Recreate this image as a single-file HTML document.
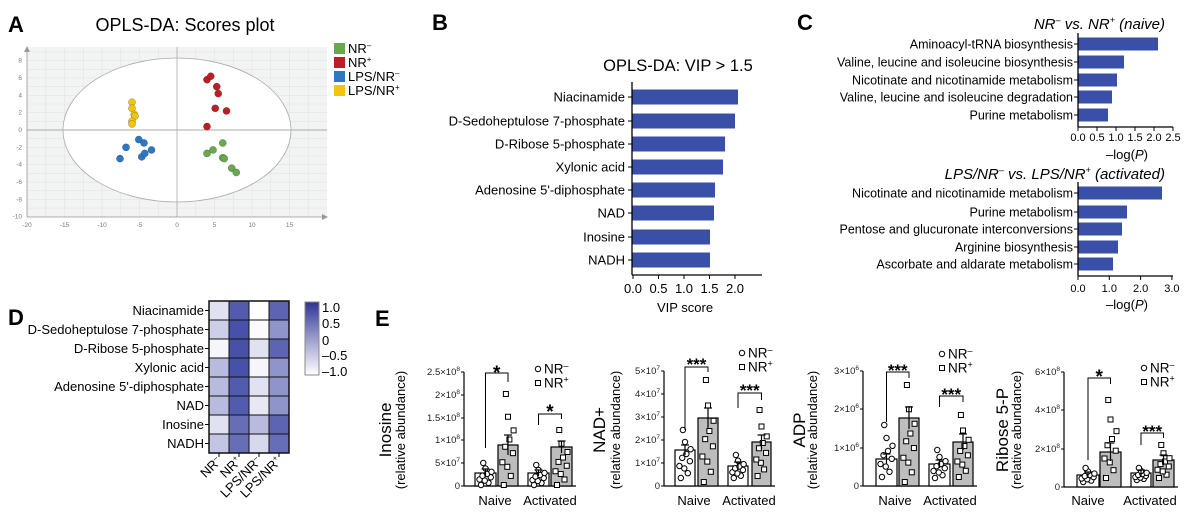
<!DOCTYPE html>
<html><head><meta charset="utf-8"><style>
html,body{margin:0;padding:0;background:#fff;}
svg{display:block;font-family:"Liberation Sans",sans-serif;}
</style></head><body>
<svg id="s" width="1200" height="524" viewBox="0 0 1200 524" xmlns="http://www.w3.org/2000/svg">
<rect width="1200" height="524" fill="#fff"/>
<!-- Panel A -->
<text x="8" y="32" font-size="22" font-weight="bold">A</text>
<text x="185" y="31" font-size="18" text-anchor="middle">OPLS-DA: Scores plot</text>
<rect x="27" y="47" width="300" height="170" fill="#f2f3f3"/>
<g id="agrid" stroke="#e2e4e4" stroke-width="0.6"></g>
<ellipse cx="177" cy="130" rx="114" ry="72" fill="#fff" stroke="#aaa" stroke-width="0.8"/>
<line x1="177" y1="47" x2="177" y2="217" stroke="#aaa" stroke-width="0.8"/>
<line x1="27" y1="130" x2="327" y2="130" stroke="#aaa" stroke-width="1"/>
<line x1="27" y1="217" x2="322" y2="217" stroke="#999" stroke-width="0.8"/>
<line x1="27" y1="48" x2="27" y2="217" stroke="#999" stroke-width="0.8"/>
<polygon points="322,214 328,217 322,220" fill="#999"/>
<polygon points="24,52 27,46 30,52" fill="#999"/>
<g id="alabels" font-size="6.5" fill="#777"></g>
<g id="apts"></g>
<g font-size="13">
<rect x="334" y="43" width="11" height="11" fill="#6aa84f"/><text x="348" y="53">NR<tspan font-size="8" dy="-5">–</tspan></text>
<rect x="334" y="57" width="11" height="11" fill="#b72025"/><text x="348" y="67">NR<tspan font-size="8" dy="-5">+</tspan></text>
<rect x="334" y="71" width="11" height="11" fill="#2f77c0"/><text x="348" y="81">LPS/NR<tspan font-size="8" dy="-5">–</tspan></text>
<rect x="334" y="85" width="11" height="11" fill="#f1c40f"/><text x="348" y="95">LPS/NR<tspan font-size="8" dy="-5">+</tspan></text>
</g>
<!-- Panel B -->
<text x="432" y="30" font-size="22" font-weight="bold">B</text>
<text x="678" y="71" font-size="16.5" text-anchor="middle">OPLS-DA: VIP &gt; 1.5</text>
<g id="pb"></g>
<!-- Panel C -->
<text x="797" y="30" font-size="22" font-weight="bold">C</text>
<g id="pc"></g>
<!-- Panel D -->
<text x="8" y="325" font-size="22" font-weight="bold">D</text>
<g id="pd"></g>
<!-- Panel E -->
<text x="375" y="326" font-size="22" font-weight="bold">E</text>
<g id="pe"></g>
</svg>
<script>
const NS="http://www.w3.org/2000/svg";
function el(p,t,a,txt){const e=document.createElementNS(NS,t);for(const k in a)e.setAttribute(k,a[k]);if(txt!==undefined)e.textContent=txt;p.appendChild(e);return e;}
// Panel A
const ag=document.getElementById('agrid'),al=document.getElementById('alabels'),ap=document.getElementById('apts');
const X=v=>177+7.5*v,Y=v=>130-8.67*v;
for(let v=-20;v<=19;v+=2.5)el(ag,'line',{x1:X(v),y1:47,x2:X(v),y2:217});
for(let v=-10;v<=9;v+=1)el(ag,'line',{x1:27,y1:Y(v),x2:327,y2:Y(v)});
for(let v=-20;v<=15;v+=5)el(al,'text',{x:X(v),y:227,'text-anchor':'middle'},v);
for(let v=-10;v<=8;v+=2)el(al,'text',{x:22,y:Y(v)+2,'text-anchor':'end'},v);
const pts={"#b72025":[[4,5.8],[4.5,6.2],[5.3,5],[5.5,4.2],[5.1,2.5],[6.6,2.2],[4,0.4]],
"#6aa84f":[[4,-2.7],[4.8,-2.3],[6.1,-1.5],[6.1,-3.2],[6.3,-3.3],[7.3,-4.4],[7.9,-4.9]],
"#2f77c0":[[-5.1,-1.1],[-4.4,-1.5],[-6.8,-2],[-7.6,-3.3],[-4.7,-3.1],[-4.3,-2.7],[-3.4,-2.3]],
"#f1c40f":[[-6,3.2],[-6,2.5],[-5.7,1.8],[-5.6,1.6],[-6,1],[-6,0.7]]};
for(const c in pts)pts[c].forEach(p=>el(ap,'circle',{cx:X(p[0]),cy:Y(p[1]),r:3.6,fill:c,stroke:'rgba(0,0,0,0.35)','stroke-width':0.5}));
const BLUE="#3a4fa8";
// Panel B
const pb=document.getElementById('pb');
const bl=["Niacinamide","D-Sedoheptulose 7-phosphate","D-Ribose 5-phosphate","Xylonic acid","Adenosine 5'-diphosphate","NAD","Inosine","NADH"];
const be=[738,735,725,723,715,714,710,710],bc=[97,121,144,167,190,213,237,260];
bl.forEach((l,i)=>{el(pb,'rect',{x:632,y:bc[i]-7.5,width:be[i]-632,height:15,fill:BLUE});
el(pb,'line',{x1:628,y1:bc[i],x2:632,y2:bc[i],stroke:'#000'});
el(pb,'text',{x:625,y:bc[i]+4.5,'font-size':13,'text-anchor':'end'},l);});
el(pb,'line',{x1:632,y1:82,x2:632,y2:275,stroke:'#000','stroke-width':1.3});
el(pb,'line',{x1:632,y1:275,x2:762,y2:275,stroke:'#000','stroke-width':1.3});
["0.0","0.5","1.0","1.5","2.0"].forEach((t,i)=>{const x=633+25.5*i;el(pb,'line',{x1:x,y1:275,x2:x,y2:279,stroke:'#000'});el(pb,'text',{x:x,y:293,'font-size':13,'text-anchor':'middle'},t);});
el(pb,'text',{x:685,y:312,'font-size':13,'text-anchor':'middle'},"VIP score");
// Panel C
const pc=document.getElementById('pc');
function cpanel(title,labels,ends,cents,axY,ticks,tickStep,tlY,lgY,tY){
 const t=el(pc,'text',{x:1165,y:tY,'font-size':15,'font-style':'italic','text-anchor':'end'});t.innerHTML=title;
 labels.forEach((l,i)=>{el(pc,'rect',{x:1078,y:cents[i]-6.5,width:ends[i]-1078,height:13,fill:BLUE});
 el(pc,'line',{x1:1074,y1:cents[i],x2:1078,y2:cents[i],stroke:'#000'});
 el(pc,'text',{x:1073,y:cents[i]+4.5,'font-size':12.5,'text-anchor':'end'},l);});
 el(pc,'line',{x1:1078,y1:cents[0]-11,x2:1078,y2:axY,stroke:'#000','stroke-width':1.3});
 el(pc,'line',{x1:1078,y1:axY,x2:1173,y2:axY,stroke:'#000','stroke-width':1.3});
 ticks.forEach((tk,i)=>{const x=1078+tickStep*i;el(pc,'line',{x1:x,y1:axY,x2:x,y2:axY+4,stroke:'#000'});el(pc,'text',{x:x,y:tlY,'font-size':11,'text-anchor':'middle'},tk);});
 const g=el(pc,'text',{x:1127,y:lgY,'font-size':13,'text-anchor':'middle'});g.innerHTML='–log(<tspan font-style="italic">P</tspan>)';
}
cpanel('NR<tspan font-size="9" dy="-6">–</tspan><tspan dy="6"> vs. NR</tspan><tspan font-size="9" dy="-6">+</tspan><tspan dy="6"> (naive)</tspan>',
["Aminoacyl-tRNA biosynthesis","Valine, leucine and isoleucine biosynthesis","Nicotinate and nicotinamide metabolism","Valine, leucine and isoleucine degradation","Purine metabolism"],
[1158,1124,1117,1112,1108],[44,62,80,97,115],127,["0.0","0.5","1.0","1.5","2.0","2.5"],19,141,159,29);
cpanel('LPS/NR<tspan font-size="9" dy="-6">–</tspan><tspan dy="6"> vs. LPS/NR</tspan><tspan font-size="9" dy="-6">+</tspan><tspan dy="6"> (activated)</tspan>',
["Nicotinate and nicotinamide metabolism","Purine metabolism","Pentose and glucuronate interconversions","Arginine biosynthesis","Ascorbate and aldarate metabolism"],
[1162,1127,1122,1118,1113],[193,212,229,247,264],276,["0.0","1.0","2.0","3.0"],31.3,292,309,179);
// Panel D
const pd=document.getElementById('pd');
const hv=[[.15,.85,0,.8],[.25,.9,.02,.55],[.05,.9,.15,.8],[.35,.9,.05,.55],[.35,.85,.15,.55],[.35,.85,.12,.55],[.15,.75,.35,.8],[.3,.75,.2,.75]];
const col=v=>{const r=Math.round(255+(52-255)*v),g=Math.round(255+(62-255)*v),b=Math.round(255+(160-255)*v);return `rgb(${r},${g},${b})`;};
hv.forEach((row,i)=>{row.forEach((v,j)=>el(pd,'rect',{x:209+20*j,y:301+19*i,width:20,height:19,fill:col(v),stroke:'#111','stroke-width':1}));
 el(pd,'line',{x1:205,y1:310.5+19*i,x2:209,y2:310.5+19*i,stroke:'#000'});
 el(pd,'text',{x:204,y:315+19*i,'font-size':13,'text-anchor':'end'},bl[i]);});
el(pd,'rect',{x:209,y:301,width:80,height:152,fill:'none',stroke:'#111','stroke-width':1.5});
const cl=['NR<tspan font-size="8" dy="-5">–</tspan>','NR<tspan font-size="8" dy="-5">+</tspan>','LPS/NR<tspan font-size="8" dy="-5">–</tspan>','LPS/NR<tspan font-size="8" dy="-5">+</tspan>'];
cl.forEach((c,j)=>{const x=219+20*j;el(pd,'line',{x1:x,y1:453,x2:x,y2:457,stroke:'#000'});const t=el(pd,'text',{x:x+3,y:462,'font-size':13,'text-anchor':'end',transform:`rotate(-45 ${x+3} 462)`});t.innerHTML=c;});
const defs=el(document.getElementById('s'),'defs',{});const lg=el(defs,'linearGradient',{id:'cb',x1:0,y1:0,x2:0,y2:1});
el(lg,'stop',{offset:0,'stop-color':'#2e3592'});el(lg,'stop',{offset:.5,'stop-color':'#9b9ccd'});el(lg,'stop',{offset:1,'stop-color':'#fff'});
el(pd,'rect',{x:305,y:302,width:14,height:73,fill:'url(#cb)',stroke:'#888','stroke-width':1});
[["1.0",312],["0.5",328],["0",345],["–0.5",360],["–1.0",376]].forEach(a=>el(pd,'text',{x:322,y:a[1],'font-size':13},a[0]));
// Panel E
const pe=document.getElementById('pe');
// br: [bracketY, leftLegBottom, rightLegBottom, star, starCenterY]
const charts=[
{ax:464,name:"Inosine",nx:385,sx:400,tr:460,ticks:[["2.5×10","8",372],["2×10","8",395],["1.5×10","8",418],["1×10","8",440],["5×10","7",463],["0","",486]],
 bars:[[475,496,473,463,485,4],[498,518,445,394,485,10],[528,549,473,465,485,3],[551,572,447,430,485,6]],
 br:[[373,448,382,"*",369],[414,425,419,"*",408]],lx:538,ly:369,labs:[495,550]},
{ax:664,name:"NAD+",nx:599,sx:615,tr:660,ticks:[["5×10","7",371],["4×10","7",394],["3×10","7",417],["2×10","7",440],["1×10","7",463],["0","",486]],
 bars:[[675,695,450,430,478,5],[698,718,418,380,482,10],[728,748,466,455,478,4],[752,771,442,410,476,7]],
 br:[[367,430,372,"***",361],[393,408,400,"***",387]],lx:742,ly:353,labs:[694,749]},
{ax:863,name:"ADP",nx:799,sx:812,tr:859,ticks:[["3×10","6",371],["2×10","6",409],["1×10","6",448],["0","",486]],
 bars:[[876,897,459,425,477,5],[899,919,418,385,482,11],[929,950,464,450,478,4],[953,973,442,415,477,8]],
 br:[[372,422,378,"***",367],[396,407,402,"***",391]],lx:942,ly:354,labs:[895,950]},
{ax:1064,name:"Ribose 5-P",nx:1002,sx:1016,tr:1060,ticks:[["6×10","8",372],["4×10","8",410],["2×10","8",449],["0","",487]],
 bars:[[1077,1099,475,468,482,3],[1100,1121,452,400,478,9],[1131,1151,473,468,480,3],[1153,1174,460,445,478,5]],
 br:[[378,460,384,"*",373],[433,445,438,"***",428]],lx:1144,ly:368,labs:[1088,1150]}];
const fr=[0,.1,.2,.25,.35,.42,.5,.6,.75,1],jx=[.2,.7,.45,.1,.85,.3,.6,.9,.5,.35];
charts.forEach(c=>{
 const B=c.ticks[c.ticks.length-1][2];
 el(pe,'line',{x1:c.ax,y1:c.ticks[0][2],x2:c.ax,y2:B,stroke:'#000','stroke-width':1.2});
 el(pe,'line',{x1:c.ax,y1:B,x2:c.bars[3][1]+4,y2:B,stroke:'#000','stroke-width':1.2});
 c.ticks.forEach(t=>{el(pe,'line',{x1:c.ax-3,y1:t[2],x2:c.ax,y2:t[2],stroke:'#000'});const tx=el(pe,'text',{x:c.tr,y:t[2]+3,'font-size':9.5,'text-anchor':'end',fill:'#222'});tx.innerHTML=t[0]+(t[1]?`<tspan font-size="6.5" dy="-4">${t[1]}</tspan>`:'');});
 const yl=el(pe,'text',{x:c.nx,y:430,'font-size':17,'text-anchor':'middle',transform:`rotate(-90 ${c.nx} 430)`},c.name);yl.setAttribute('dy','6');
 el(pe,'text',{x:c.sx,y:430,'font-size':13,'text-anchor':'middle',transform:`rotate(-90 ${c.sx} 430)`,dy:5},"(relative abundance)");
 c.bars.forEach((b,i)=>{
  el(pe,'rect',{x:b[0],y:b[2],width:b[1]-b[0],height:B-b[2],fill:i%2?'#bdbdbd':'#fff',stroke:'#000','stroke-width':1.2});
  const cx=(b[0]+b[1])/2;
  fr.forEach((f,k)=>{const y=b[4]-(b[4]-b[3])*f,x=b[0]+3+(b[1]-b[0]-6)*jx[k];
   if(i%2)el(pe,'rect',{x:x-2.5,y:y-2.5,width:5,height:5,fill:'#fff',stroke:'#000','stroke-width':1});
   else el(pe,'circle',{cx:x,cy:y,r:2.7,fill:'#fff',stroke:'#000','stroke-width':1});});
  el(pe,'line',{x1:cx,y1:b[2]-b[5],x2:cx,y2:b[2]+b[5],stroke:'#000','stroke-width':1.2});
  el(pe,'line',{x1:cx-4,y1:b[2]-b[5],x2:cx+4,y2:b[2]-b[5],stroke:'#000','stroke-width':1.2});
 });
 c.br.forEach((r,k)=>{const b1=c.bars[2*k],b2=c.bars[2*k+1];const x1=(b1[0]+b1[1])/2,x2=(b2[0]+b2[1])/2;
  el(pe,'path',{d:`M${x1},${r[1]}V${r[0]}H${x2}V${r[2]}`,fill:'none',stroke:'#000','stroke-width':1});
  el(pe,'text',{x:(x1+x2)/2,y:r[4]+(r[3].length>1?9:10),'font-size':r[3].length>1?17:19,'font-weight':'bold','text-anchor':'middle'},r[3]);});
 el(pe,'text',{x:c.labs[0],y:505,'font-size':13,'text-anchor':'middle'},"Naive");
 el(pe,'text',{x:c.labs[1],y:505,'font-size':13,'text-anchor':'middle'},"Activated");
 el(pe,'circle',{cx:c.lx,cy:c.ly,r:2.7,fill:'#fff',stroke:'#000'});
 el(pe,'rect',{x:c.lx-2.5,y:c.ly+11.5,width:5,height:5,fill:'#fff',stroke:'#000'});
 const a=el(pe,'text',{x:c.lx+6,y:c.ly+4.5,'font-size':13.5});a.innerHTML='NR<tspan font-size="9" dy="-5">–</tspan>';
 const d=el(pe,'text',{x:c.lx+6,y:c.ly+18.5,'font-size':13.5});d.innerHTML='NR<tspan font-size="9" dy="-5">+</tspan>';
});
</script>
</body></html>
